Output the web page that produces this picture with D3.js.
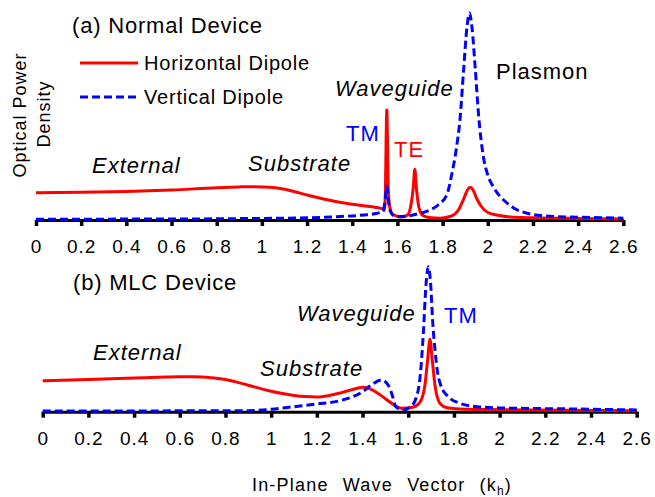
<!DOCTYPE html>
<html>
<head>
<meta charset="utf-8">
<script src="https://cdn.jsdelivr.net/npm/d3@7"></script>
<style>
  body { margin: 0; background: #fff; }
  svg { display: block; font-family: "Liberation Sans", Arial, sans-serif; }
  .tick text { font-size: 19px; letter-spacing: 1px; fill: #000; }
</style>
</head>
<body>
<svg width="655" height="497"></svg>
<script>
// tick labels shared by both panels
var ticks = [0, 0.2, 0.4, 0.6, 0.8, 1, 1.2, 1.4, 1.6, 1.8, 2, 2.2, 2.4, 2.6];

// (a) normal device - horizontal dipole (red)
var aRedX = [0, 0.2, 0.4, 0.6, 0.8, 0.9, 0.95, 1.0, 1.05, 1.1, 1.15, 1.2, 1.25, 1.3, 1.35, 1.4, 1.45, 1.5, 1.535, 1.542, 1.547, 1.55, 1.553, 1.556, 1.559, 1.565, 1.575, 1.59, 1.62, 1.645, 1.66, 1.67, 1.677, 1.684, 1.694, 1.71, 1.74, 1.79, 1.84, 1.87, 1.895, 1.91, 1.922, 1.935, 1.95, 1.97, 2.0, 2.05, 2.1, 2.2, 2.4, 2.6];
var aRedY = [27.3, 27.7, 28.5, 30, 32.3, 33.1, 33.3, 33.1, 32.5, 30.8, 28, 25, 22.3, 19.8, 17.6, 15.8, 14.2, 12.8, 11, 9.5, 30, 80, 110, 80, 35, 14, 7, 4.5, 3, 5, 15, 32, 50.7, 32, 14, 5, 2.5, 1.8, 4, 10, 22, 30, 32.7, 30, 22, 14, 7.5, 4.5, 3, 2.2, 1.5, 1];
// (a) normal device - vertical dipole (blue)
var aBlueX = [0, 0.4, 0.8, 1.0, 1.2, 1.35, 1.45, 1.51, 1.535, 1.545, 1.553, 1.561, 1.57, 1.585, 1.6, 1.65, 1.7, 1.745, 1.78, 1.82, 1.84, 1.86, 1.878, 1.893, 1.908, 1.919, 1.93, 1.945, 1.96, 1.98, 2.0, 2.025, 2.085, 2.17, 2.29, 2.45, 2.6];
var aBlueY = [0.8, 0.9, 1.2, 1.6, 2.2, 3.5, 5, 6.7, 9, 18, 34, 18, 8, 4, 3.3, 4.2, 6.7, 10, 15, 26, 45, 70, 103, 150, 193, 207, 193, 150, 103, 64, 45, 33, 17, 7, 3.5, 2.5, 1.8];

// (b) MLC device - horizontal dipole (red)
var bRedX = [0, 0.2, 0.4, 0.5, 0.6, 0.65, 0.7, 0.75, 0.8, 0.85, 0.9, 0.95, 1.0, 1.05, 1.1, 1.15, 1.2, 1.25, 1.3, 1.35, 1.4, 1.43, 1.46, 1.5, 1.53, 1.57, 1.62, 1.65, 1.672, 1.685, 1.695, 1.705, 1.718, 1.74, 1.77, 1.85, 2.0, 2.3, 2.6];
var bRedY = [31, 32.3, 33.6, 34.4, 34.9, 35, 34.7, 33.8, 32.2, 29.6, 26.5, 23.3, 20.5, 18.1, 16.3, 15.1, 14.7, 16, 18.6, 21.8, 24.4, 23, 19.5, 13, 8, 3.5, 4.5, 9, 25, 52, 72.4, 52, 25, 8, 4, 2.5, 2, 1.5, 1];
// (b) MLC device - vertical dipole (blue)
var bBlueX = [0, 0.4, 0.8, 0.9, 1.0, 1.1, 1.2, 1.3, 1.4, 1.44, 1.484, 1.512, 1.532, 1.545, 1.578, 1.61, 1.635, 1.652, 1.666, 1.678, 1.688, 1.698, 1.707, 1.717, 1.728, 1.74, 1.775, 1.826, 1.9, 2.0, 2.3, 2.6];
var bBlueY = [0.7, 0.8, 0.9, 1, 2.4, 5, 7.7, 11, 20, 27, 31.7, 26.7, 15, 5, 1.7, 5, 14, 35, 78, 128, 145, 128, 90, 62, 40, 28, 15, 8.4, 5, 3.8, 2.8, 1.7];

var RED = "#ff0000", BLUE = "#0000ff";

var svg = d3.select("svg");

function zip(xs, ys) {
  return xs.map(function(x, i) { return [x, ys[i]]; });
}

function panel(opt) {
  var x = d3.scaleLinear().domain([0, 2.6]).range(opt.xr);
  var y = d3.scaleLinear().domain([0, opt.ymax]).range([opt.y0, opt.y0 - opt.ymax]);
  var g = svg.append("g");

  var axis = d3.axisBottom(x).tickValues(ticks).tickSizeInner(6).tickSizeOuter(0)
      .tickFormat(d3.format("~g"));
  var ax = g.append("g").attr("transform", "translate(0," + opt.y0 + ")").call(axis);
  ax.select(".domain").attr("stroke", "#000").attr("stroke-width", 3);
  ax.selectAll(".tick line").attr("stroke", "#000").attr("stroke-width", 3.5);
  ax.selectAll(".tick text").attr("y", 20).attr("font-size", null).attr("font-family", null);

  var line = d3.line()
      .x(function(d) { return x(d[0]); })
      .y(function(d) { return y(d[1]); })
      .curve(d3.curveMonotoneX);

  g.append("path").datum(zip(opt.redX, opt.redY))
      .attr("d", line).attr("fill", "none")
      .attr("stroke", RED).attr("stroke-width", 3).attr("stroke-linejoin", "round");
  g.append("path").datum(zip(opt.blueX, opt.blueY))
      .attr("d", line).attr("fill", "none")
      .attr("stroke", BLUE).attr("stroke-width", 3).attr("stroke-dasharray", "8,4");
  return g;
}

panel({ xr: [36, 623.3], y0: 220, ymax: 210, redX: aRedX, redY: aRedY, blueX: aBlueX, blueY: aBlueY });
panel({ xr: [42.7, 636.7], y0: 411.7, ymax: 150, redX: bRedX, redY: bRedY, blueX: bBlueX, blueY: bBlueY });

function label(txt, x, y, size, opts) {
  opts = opts || {};
  return svg.append("text")
      .attr("x", x).attr("y", y)
      .attr("font-size", size)
      .attr("letter-spacing", opts.ls == null ? 1 : opts.ls)
      .attr("font-style", opts.italic ? "italic" : null)
      .attr("fill", opts.color || "#000")
      .attr("text-anchor", opts.anchor || "start")
      .text(txt);
}

// panel titles
label("(a) Normal Device", 72, 33, 22, { ls: 0.8 });
label("(b) MLC Device", 73, 290, 22, { ls: 0.8 });

// legend
svg.append("line").attr("x1", 80).attr("x2", 138).attr("y1", 63).attr("y2", 63)
    .attr("stroke", RED).attr("stroke-width", 3);
svg.append("line").attr("x1", 80).attr("x2", 138).attr("y1", 97).attr("y2", 97)
    .attr("stroke", BLUE).attr("stroke-width", 3).attr("stroke-dasharray", "8,4");
label("Horizontal Dipole", 144, 70, 20, { ls: 0.8 });
label("Vertical Dipole", 144, 104, 20, { ls: 0.8 });

// y label
svg.append("g").attr("transform", "translate(26,115) rotate(-90)")
  .append("text").attr("text-anchor", "middle").attr("font-size", 18)
  .attr("letter-spacing", 1).text("Optical Power");
svg.append("g").attr("transform", "translate(50,114) rotate(-90)")
  .append("text").attr("text-anchor", "middle").attr("font-size", 18)
  .attr("letter-spacing", 1).text("Density");

// annotations (a)
label("External", 92, 173, 22, { italic: true });
label("Substrate", 248, 171, 22, { italic: true });
label("Waveguide", 335, 96, 22, { italic: true });
label("TM", 346, 141, 22, { color: BLUE });
label("TE", 394, 157, 22, { color: RED });
label("Plasmon", 496, 79, 22);

// annotations (b)
label("External", 93, 360, 22, { italic: true });
label("Substrate", 260, 376, 22, { italic: true });
label("Waveguide", 297, 321, 22, { italic: true });
label("TM", 444, 323, 22, { color: BLUE });

// x label
var xl = svg.append("text").attr("x", 382).attr("y", 491).attr("text-anchor", "middle")
    .attr("font-size", 18).attr("letter-spacing", 1.2).attr("word-spacing", 8);
xl.append("tspan").text("In-Plane Wave Vector  (k");
xl.append("tspan").attr("font-size", 12).attr("dy", 4).text("h");
xl.append("tspan").attr("dy", -4).text(")");
</script>
</body>
</html>
